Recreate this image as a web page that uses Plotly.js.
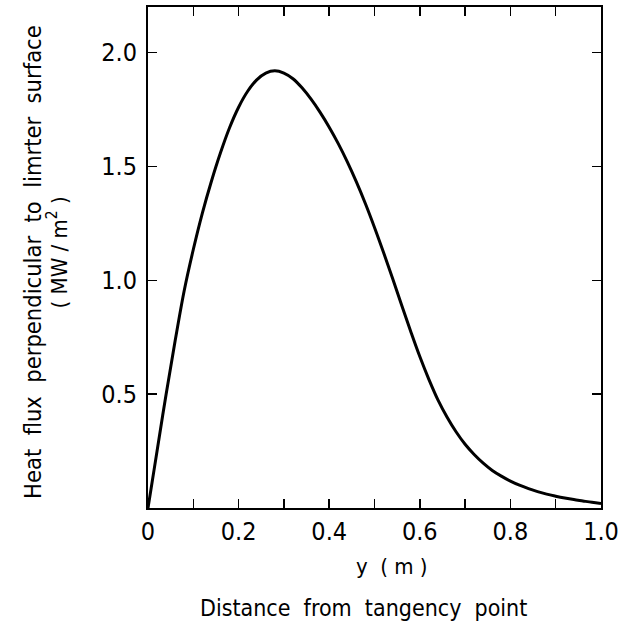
<!DOCTYPE html>
<html>
<head>
<meta charset="utf-8">
<script src="https://cdn.plot.ly/plotly-3.0.1.min.js"></script>
<style>
  html, body { margin: 0; padding: 0; background: #fff; }
  #chart { width: 636px; height: 629px; }
</style>
</head>
<body>
<div id="chart"></div>
<script>
// Distance from tangency point y (m)
const distance = [0, 0.01, 0.02, 0.04, 0.06, 0.08, 0.10, 0.12, 0.14, 0.16, 0.18, 0.20,
  0.22, 0.24, 0.26, 0.28, 0.30, 0.32, 0.34, 0.36, 0.38, 0.40, 0.42, 0.44, 0.46, 0.48,
  0.50, 0.52, 0.54, 0.56, 0.58, 0.60, 0.62, 0.64, 0.66, 0.68, 0.70, 0.72, 0.74, 0.76, 0.78,
  0.80, 0.82, 0.84, 0.86, 0.88, 0.90, 0.92, 0.94, 0.96, 0.98, 1.00];
// Heat flux perpendicular to limiter surface (MW/m^2)
const heatFlux = [0, 0.125, 0.25, 0.50, 0.735, 0.955, 1.135, 1.295, 1.435, 1.56, 1.67, 1.76,
  1.83, 1.88, 1.91, 1.92, 1.91, 1.885, 1.845, 1.795, 1.737, 1.672, 1.60, 1.52, 1.432, 1.336,
  1.232, 1.122, 1.008, 0.89, 0.775, 0.665, 0.565, 0.475, 0.40, 0.335, 0.28, 0.235, 0.197, 0.165, 0.14,
  0.118, 0.10, 0.085, 0.072, 0.061, 0.052, 0.044, 0.037, 0.031, 0.025, 0.02];

const xTickVals = [0, 0.1, 0.2, 0.3, 0.4, 0.5, 0.6, 0.7, 0.8, 0.9, 1.0];
const xTickText = ["0", " ", "0.2", " ", "0.4", " ", "0.6", " ", "0.8", " ", "1.0"];
const yTickVals = [0.5, 1.0, 1.5, 2.0];
const yTickText = ["0.5", "1.0", "1.5", "2.0"];

const FONT = "DejaVu Sans Condensed, Liberation Sans Narrow, Arial Narrow, sans-serif";

const trace = {
  x: distance,
  y: heatFlux,
  type: "scatter",
  mode: "lines",
  line: { color: "#000", width: 3, shape: "spline", smoothing: 1 },
  hoverinfo: "skip"
};

const axisCommon = {
  showline: true,
  linecolor: "#000",
  linewidth: 2,
  mirror: "ticks",
  ticks: "inside",
  ticklen: 9,
  tickwidth: 1.5,
  tickcolor: "#000",
  showgrid: false,
  zeroline: false,
  tickfont: { family: FONT, size: 25, color: "#000" }
};

const layout = {
  width: 636,
  height: 629,
  margin: { l: 148, r: 35, t: 7, b: 121 },
  paper_bgcolor: "#fff",
  plot_bgcolor: "#fff",
  showlegend: false,
  xaxis: Object.assign({}, axisCommon, {
    range: [0, 1.0],
    tickmode: "array",
    tickvals: xTickVals,
    ticktext: xTickText
  }),
  yaxis: Object.assign({}, axisCommon, {
    range: [0, 2.2],
    tickmode: "array",
    tickvals: yTickVals,
    ticktext: yTickText,
    ticklabelstandoff: 4
  }),
  annotations: [
    { text: "y  ( m )", xref: "paper", yref: "paper", x: 0.539, y: -0.116,
      xanchor: "center", yanchor: "middle", showarrow: false,
      font: { family: FONT, size: 22, color: "#000" } },
    { text: "Distance  from  tangency  point", xref: "paper", yref: "paper", x: 0.475, y: -0.2,
      xanchor: "center", yanchor: "middle", showarrow: false,
      font: { family: FONT, size: 23, color: "#000" } },
    { text: "Heat  flux  perpendicular  to  limrter  surface", xref: "paper", yref: "paper",
      x: -0.254, y: 0.491, textangle: -90,
      xanchor: "center", yanchor: "middle", showarrow: false,
      font: { family: FONT, size: 23.5, color: "#000" } },
    { text: "( MW / m<sup>2</sup> )", xref: "paper", yref: "paper",
      x: -0.2, y: 0.511, textangle: -90,
      xanchor: "center", yanchor: "middle", showarrow: false,
      font: { family: FONT, size: 22, color: "#000" } }
  ]
};

Plotly.newPlot("chart", [trace], layout, { staticPlot: true, displayModeBar: false });
</script>
</body>
</html>
